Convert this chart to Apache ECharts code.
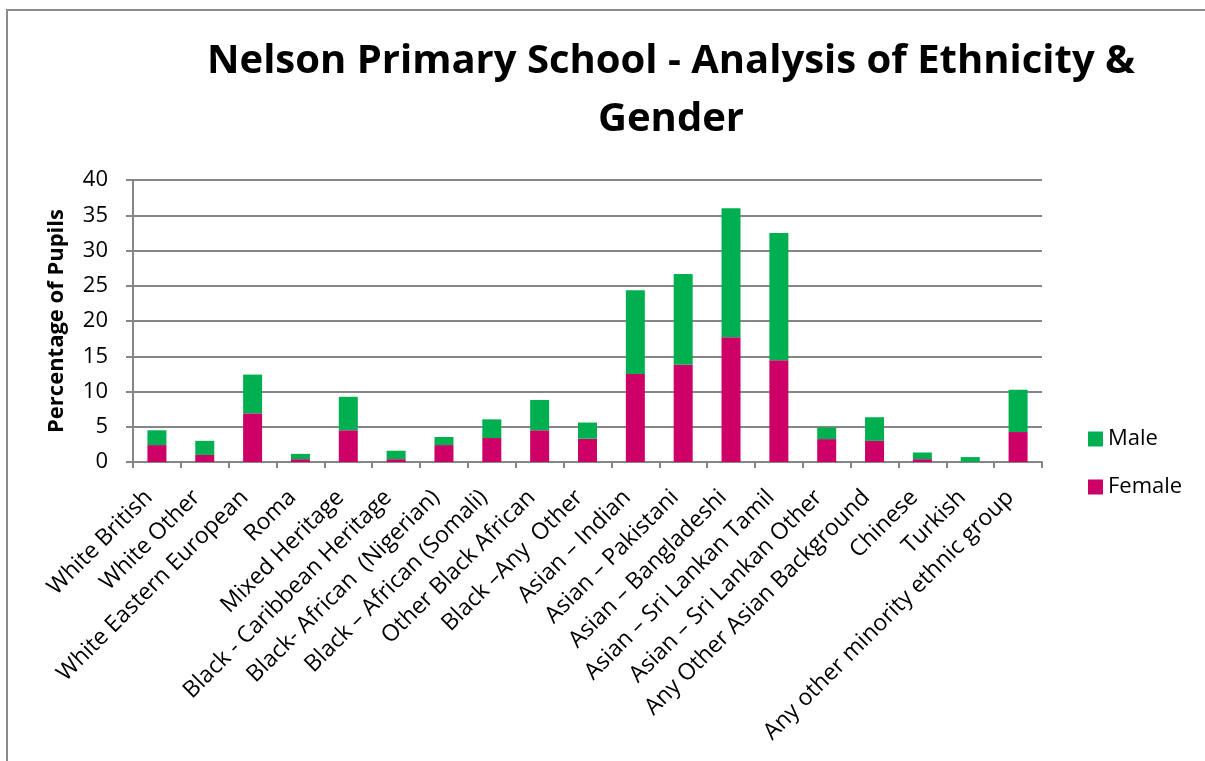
<!DOCTYPE html>
<html>
<head>
<meta charset="utf-8">
<script src="https://cdn.jsdelivr.net/npm/echarts@6/dist/echarts.min.js"></script>
<style>
  html, body { margin: 0; padding: 0; background: #fff; }
  #chart { width: 1205px; height: 761px; }
</style>
</head>
<body>
<div id="chart"></div>
<script>
// Ethnic groups (x axis categories)
const categories = [
  'White British', 'White Other', 'White Eastern European', 'Roma', 'Mixed Heritage',
  'Black - Caribbean Heritage', 'Black- African  (Nigerian)', 'Black \u2013 African (Somali)',
  'Other Black African', 'Black \u2013Any  Other', 'Asian \u2013 Indian', 'Asian \u2013 Pakistani',
  'Asian \u2013 Bangladeshi', 'Asian \u2013 Sri Lankan Tamil', 'Asian \u2013 Sri Lankan Other',
  'Any Other Asian Background', 'Chinese', 'Turkish', 'Any other minority ethnic group'
];

// Percentage of pupils by gender (stacked: Female at the bottom, Male on top)
const female = [2.4, 1.0, 6.9, 0.4, 4.5, 0.4, 2.4, 3.4, 4.5, 3.3, 12.5, 13.8, 17.7, 14.45, 3.25, 3.0, 0.4, 0, 4.25];
const male   = [2.1, 2.0, 5.5, 0.75, 4.75, 1.2, 1.15, 2.65, 4.3, 2.3, 11.85, 12.85, 18.3, 18.05, 1.65, 3.35, 0.95, 0.7, 6.0];

// Y axis scale
const yMin = 0;
const yMax = 40;
const yStep = 5;

const FONT = 'Open Sans';
const chart = echarts.init(document.getElementById('chart'), null, { renderer: 'canvas' });

chart.setOption({
  backgroundColor: '#ffffff',
  animation: false,
  textStyle: { fontFamily: FONT, color: '#000' },
  graphic: [{
    type: 'rect',
    shape: { x: 7, y: 10, width: 1300, height: 900 },
    style: { fill: 'none', stroke: '#8c8c8c', lineWidth: 2 },
    silent: true
  }],
  title: {
    text: 'Nelson Primary School - Analysis of Ethnicity &\nGender',
    left: 666,
    textAlign: 'center',
    top: 28,
    textStyle: {
      fontFamily: FONT,
      fontSize: 40,
      fontWeight: 'bold',
      color: '#000',
      lineHeight: 58
    }
  },
  legend: {
    data: ['Male', 'Female'],
    orient: 'vertical',
    left: 1083,
    top: 422,
    itemWidth: 15,
    itemHeight: 15,
    itemGap: 24,
    icon: 'rect',
    textStyle: { fontFamily: FONT, fontSize: 22, lineHeight: 24, color: '#000' }
  },
  grid: {
    left: 133,
    right: 163,
    top: 180,
    bottom: 299,
    containLabel: false
  },
  xAxis: {
    type: 'category',
    data: categories,
    boundaryGap: true,
    axisLine: { lineStyle: { color: '#868686', width: 2 } },
    axisTick: { show: true, alignWithLabel: false, length: 6, lineStyle: { color: '#868686', width: 2 } },
    axisLabel: {
      rotate: 45,
      interval: 0,
      margin: 40,
      align: 'right',
      verticalAlign: 'bottom',
      fontFamily: FONT,
      fontSize: 23,
      color: '#000'
    }
  },
  yAxis: {
    type: 'value',
    min: yMin,
    max: yMax,
    interval: yStep,
    name: 'Percentage of Pupils',
    nameLocation: 'middle',
    nameGap: 65,
    nameTextStyle: { fontFamily: FONT, fontSize: 22, fontWeight: 'bold', color: '#000' },
    axisLine: { show: true, lineStyle: { color: '#868686', width: 2 } },
    axisTick: { show: true, length: 7, lineStyle: { color: '#868686', width: 2 } },
    axisLabel: { fontFamily: FONT, fontSize: 22, color: '#000', margin: 25 },
    splitLine: { show: true, lineStyle: { color: '#868686', width: 2 } }
  },
  series: [
    {
      name: 'Female',
      type: 'bar',
      stack: 'total',
      data: female,
      barWidth: 19,
      itemStyle: { color: '#CC0066' }
    },
    {
      name: 'Male',
      type: 'bar',
      stack: 'total',
      data: male,
      barWidth: 19,
      itemStyle: { color: '#00B050' }
    }
  ]
});
</script>
</body>
</html>
